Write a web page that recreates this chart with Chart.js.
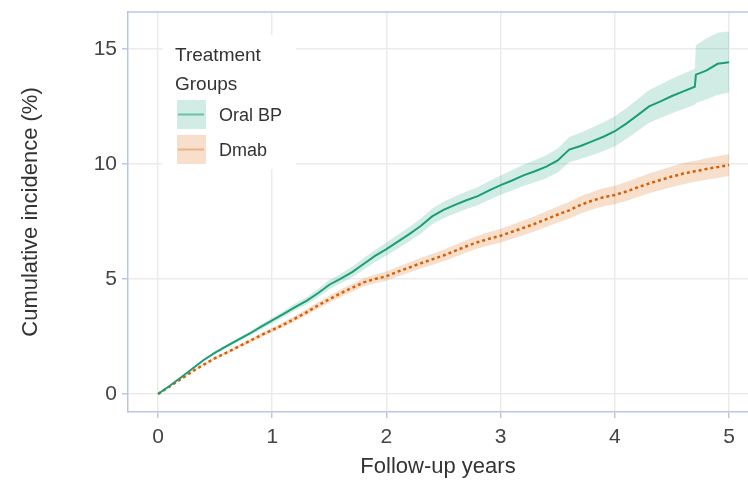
<!DOCTYPE html>
<html>
<head>
<meta charset="utf-8">
<script src="https://cdn.jsdelivr.net/npm/chart.js@4.4.1/dist/chart.umd.min.js"></script>
<style>
    html, body { margin: 0; padding: 0; background: #ffffff; }
    #wrap { width: 748px; height: 484px; position: relative; }
</style>
</head>
<body>
<div id="wrap"><canvas id="incidenceChart"></canvas></div>
<script>
// follow-up time (years); 4.71 repeats the big step near the end of Oral BP
const years = [0, 0.1, 0.2, 0.3, 0.4, 0.5, 0.6, 0.7, 0.8, 0.9,
    1.0, 1.1, 1.2, 1.3, 1.4, 1.5, 1.6, 1.7, 1.8, 1.9,
    2.0, 2.1, 2.2, 2.3, 2.4, 2.5, 2.6, 2.7, 2.8, 2.9,
    3.0, 3.1, 3.2, 3.3, 3.4, 3.5, 3.6, 3.7, 3.8, 3.9,
    4.0, 4.1, 4.2, 4.3, 4.4, 4.5, 4.6, 4.7, 4.71, 4.8, 4.9, 5.0];

const oralBp = [0, 0.35, 0.72, 1.10, 1.48, 1.80, 2.08, 2.35, 2.62, 2.92,
    3.20, 3.48, 3.78, 4.05, 4.38, 4.75, 5.02, 5.30, 5.65, 6.00,
    6.30, 6.62, 6.95, 7.30, 7.72, 8.00, 8.22, 8.42, 8.60, 8.85,
    9.08, 9.28, 9.50, 9.68, 9.88, 10.15, 10.62, 10.78, 10.98, 11.18,
    11.42, 11.75, 12.12, 12.50, 12.72, 12.95, 13.15, 13.35, 13.88, 14.05, 14.35, 14.42];
const oralBpLow = [0, 0.34, 0.69, 1.06, 1.43, 1.74, 2.01, 2.27, 2.53, 2.82,
    3.08, 3.35, 3.63, 3.89, 4.20, 4.55, 4.81, 5.07, 5.40, 5.74,
    6.02, 6.32, 6.64, 6.97, 7.38, 7.64, 7.85, 8.04, 8.20, 8.44,
    8.66, 8.84, 9.04, 9.20, 9.38, 9.63, 10.07, 10.21, 10.38, 10.56,
    10.77, 11.08, 11.43, 11.79, 11.99, 12.20, 12.38, 12.57, 12.65, 12.80, 13.00, 13.10];
const oralBpHigh = [0, 0.36, 0.75, 1.14, 1.53, 1.86, 2.15, 2.43, 2.71, 3.02,
    3.32, 3.61, 3.93, 4.21, 4.56, 4.95, 5.23, 5.53, 5.90, 6.26,
    6.58, 6.92, 7.26, 7.63, 8.06, 8.36, 8.59, 8.80, 9.00, 9.26,
    9.50, 9.72, 9.96, 10.16, 10.38, 10.67, 11.17, 11.35, 11.58, 11.80,
    12.07, 12.42, 12.81, 13.21, 13.45, 13.70, 13.92, 14.13, 15.15, 15.45, 15.70, 15.75];

const dmab = [0, 0.32, 0.65, 0.98, 1.28, 1.56, 1.80, 2.05, 2.30, 2.55,
    2.78, 3.02, 3.28, 3.55, 3.85, 4.12, 4.38, 4.62, 4.85, 5.00,
    5.12, 5.32, 5.50, 5.68, 5.85, 6.02, 6.22, 6.42, 6.60, 6.75,
    6.88, 7.05, 7.22, 7.40, 7.60, 7.80, 7.98, 8.22, 8.40, 8.55,
    8.65, 8.80, 8.98, 9.15, 9.30, 9.45, 9.58, 9.68, 9.68, 9.78, 9.86, 9.95];
const dmabLow = [0, 0.31, 0.63, 0.95, 1.24, 1.51, 1.74, 1.98, 2.22, 2.46,
    2.68, 2.91, 3.16, 3.42, 3.71, 3.97, 4.22, 4.45, 4.67, 4.81,
    4.92, 5.11, 5.28, 5.45, 5.61, 5.77, 5.96, 6.15, 6.32, 6.46,
    6.58, 6.74, 6.90, 7.07, 7.26, 7.45, 7.62, 7.85, 8.02, 8.16,
    8.25, 8.39, 8.56, 8.72, 8.86, 9.00, 9.12, 9.22, 9.22, 9.31, 9.39, 9.47];
const dmabHigh = [0, 0.33, 0.67, 1.01, 1.32, 1.61, 1.86, 2.12, 2.38, 2.64,
    2.88, 3.13, 3.40, 3.68, 3.99, 4.27, 4.54, 4.79, 5.03, 5.19,
    5.32, 5.53, 5.72, 5.91, 6.09, 6.27, 6.48, 6.69, 6.88, 7.04,
    7.18, 7.36, 7.54, 7.73, 7.94, 8.15, 8.34, 8.59, 8.78, 8.94,
    9.05, 9.21, 9.40, 9.58, 9.74, 9.90, 10.04, 10.14, 10.14, 10.25, 10.33, 10.43];

const xTicks = [0, 1, 2, 3, 4, 5];
const yTicks = [0, 5, 10, 15];
const groupNames = ['Oral BP', 'Dmab'];
const legendTitle = ['Treatment', 'Groups'];

const GREEN = '#1b9e77';
const ORANGE = '#d95f02';
const GREEN_BAND = 'rgba(27, 158, 119, 0.2)';
const ORANGE_BAND = 'rgba(217, 95, 2, 0.2)';
const FRAME = '#bac7e4';
const FONT = "'Liberation Sans', Arial, sans-serif";

function points(values) {
    return years.map((x, i) => ({ x, y: values[i] }));
}

function band(values, fillTo, color) {
    return {
        data: points(values),
        borderWidth: 0,
        pointRadius: 0,
        backgroundColor: color,
        fill: fillTo,
        order: 2,
    };
}

// legend inside the panel + top frame line
const groupLegend = {
    id: 'groupLegend',
    afterDatasetsDraw(chart) {
        const { ctx, chartArea } = chart;
        const left = chartArea.left;
        const top = chartArea.top;

        ctx.save();
        ctx.strokeStyle = FRAME;
        ctx.lineWidth = 1.5;
        ctx.beginPath();
        ctx.moveTo(left, top);
        ctx.lineTo(chartArea.right, top);
        ctx.stroke();

        ctx.fillStyle = '#ffffff';
        ctx.fillRect(left + 35, top + 23, 133, 134);

        ctx.fillStyle = '#333333';
        ctx.font = '19px ' + FONT;
        ctx.textBaseline = 'middle';
        ctx.textAlign = 'left';
        ctx.fillText(legendTitle[0], left + 47, top + 44);
        ctx.fillText(legendTitle[1], left + 47, top + 73);

        const keys = [
            { band: GREEN_BAND, line: 'rgba(27, 158, 119, 0.55)' },
            { band: ORANGE_BAND, line: 'rgba(217, 95, 2, 0.35)' },
        ];
        ctx.font = '18px ' + FONT;
        keys.forEach((key, i) => {
            const y = top + 88 + i * 35;
            ctx.fillStyle = key.band;
            ctx.fillRect(left + 49, y, 29, 29);
            ctx.strokeStyle = key.line;
            ctx.lineWidth = 2;
            ctx.beginPath();
            ctx.moveTo(left + 50, y + 14.5);
            ctx.lineTo(left + 76, y + 14.5);
            ctx.stroke();
            ctx.fillStyle = '#333333';
            ctx.fillText(groupNames[i], left + 91, y + 16);
        });
        ctx.restore();
    },
};

new Chart(document.getElementById('incidenceChart'), {
    type: 'line',
    data: {
        datasets: [
            {
                label: groupNames[0],
                data: points(oralBp),
                borderColor: GREEN,
                borderWidth: 2,
                pointRadius: 0,
                fill: false,
                order: 0,
            },
            {
                label: groupNames[1],
                data: points(dmab),
                borderColor: ORANGE,
                borderWidth: 2.5,
                borderDash: [3, 3],
                pointRadius: 0,
                fill: false,
                order: 1,
            },
            band(oralBpLow, false, 'transparent'),
            band(oralBpHigh, 2, GREEN_BAND),
            band(dmabLow, false, 'transparent'),
            band(dmabHigh, 4, ORANGE_BAND),
        ],
    },
    options: {
        responsive: true,
        maintainAspectRatio: false,
        animation: false,
        layout: { padding: { top: 12, right: 0, left: 0, bottom: 0 } },
        plugins: {
            legend: { display: false },
            tooltip: { enabled: false },
        },
        scales: {
            x: {
                type: 'linear',
                min: -0.263,
                max: 5.166,
                afterBuildTicks: scale => { scale.ticks = xTicks.map(v => ({ value: v })); },
                afterFit: scale => {
                    scale.height = 72;
                    scale.paddingLeft = 0;
                    scale.paddingRight = 0;
                },
                grid: { color: '#ebebeb', lineWidth: 1.5, tickColor: FRAME, tickLength: 6 },
                border: { color: FRAME, width: 1.5 },
                ticks: {
                    color: '#444444',
                    font: { family: FONT, size: 21 },
                    padding: 7,
                    maxRotation: 0,
                },
                title: {
                    display: true,
                    text: 'Follow-up years',
                    color: '#333333',
                    font: { family: FONT, size: 22 },
                    padding: { top: 0, bottom: 4 },
                },
            },
            y: {
                type: 'linear',
                min: -0.78,
                max: 16.6,
                afterBuildTicks: scale => { scale.ticks = yTicks.map(v => ({ value: v })); },
                afterFit: scale => {
                    scale.width = 128;
                    scale.paddingTop = 0;
                    scale.paddingBottom = 0;
                },
                grid: { color: '#ebebeb', lineWidth: 1.5, tickColor: FRAME, tickLength: 6 },
                border: { color: FRAME, width: 1.5 },
                ticks: {
                    color: '#444444',
                    font: { family: FONT, size: 21 },
                    padding: 5,
                },
                title: {
                    display: true,
                    text: 'Cumulative incidence (%)',
                    color: '#333333',
                    font: { family: FONT, size: 22 },
                    padding: { top: 18, bottom: 0 },
                },
            },
        },
    },
    plugins: [groupLegend],
});
</script>
</body>
</html>
